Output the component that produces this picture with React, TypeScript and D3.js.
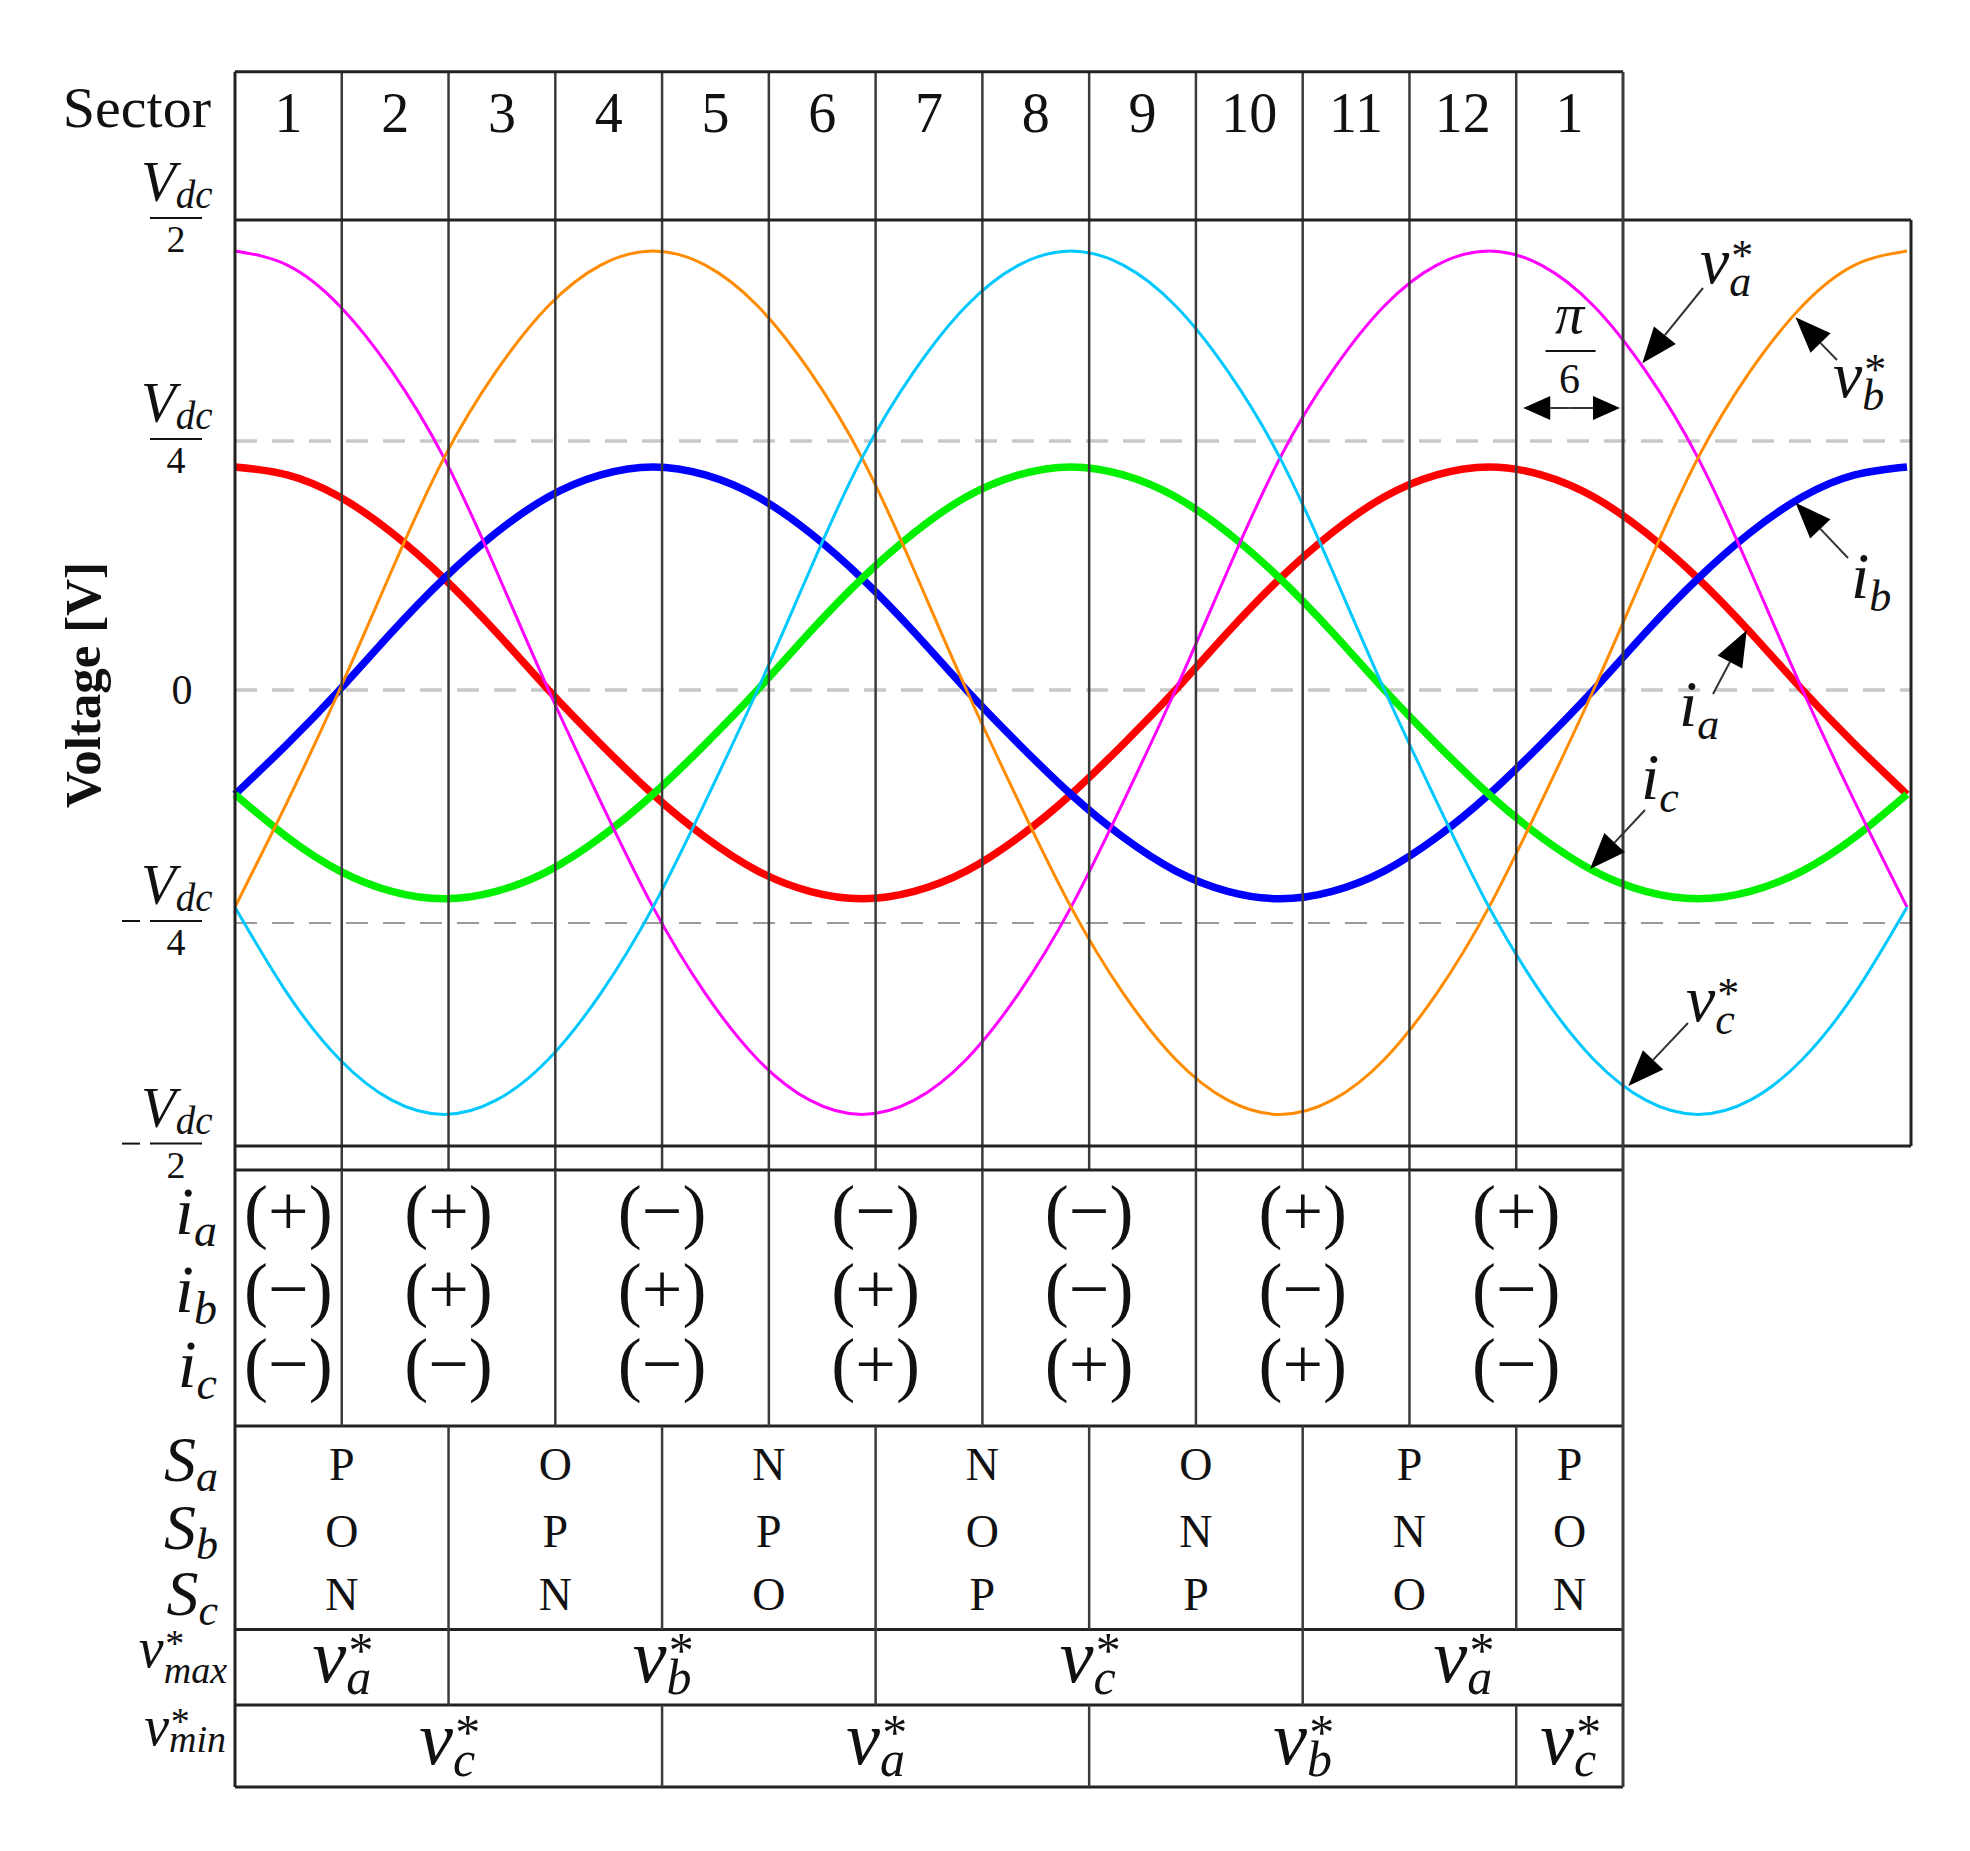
import React from 'react';
import * as d3 from 'd3';

// ---------------- DATA ----------------
const angles = [0, 15, 30, 45, 60, 75, 90, 105, 120, 135, 150, 165, 180, 195, 210, 225, 240, 255, 270, 285, 300, 315, 330, 345, 360, 375, 390, 405, 420, 435, 450, 465, 480];

// reference voltages (fraction of Vdc)
const vaRef = [0.465, 0.449, 0.403, 0.329, 0.233, 0.120, 0, -0.120, -0.233, -0.329, -0.403, -0.449, -0.465, -0.449, -0.403, -0.329, -0.233, -0.120, 0, 0.120, 0.233, 0.329, 0.403, 0.449, 0.465, 0.449, 0.403, 0.329, 0.233, 0.120, 0, -0.120, -0.233];
const vbRef = [-0.233, -0.120, 0, 0.120, 0.233, 0.329, 0.403, 0.449, 0.465, 0.449, 0.403, 0.329, 0.233, 0.120, 0, -0.120, -0.233, -0.329, -0.403, -0.449, -0.465, -0.449, -0.403, -0.329, -0.233, -0.120, 0, 0.120, 0.233, 0.329, 0.403, 0.449, 0.465];
const vcRef = [-0.233, -0.329, -0.403, -0.449, -0.465, -0.449, -0.403, -0.329, -0.233, -0.120, 0, 0.120, 0.233, 0.329, 0.403, 0.449, 0.465, 0.449, 0.403, 0.329, 0.233, 0.120, 0, -0.120, -0.233, -0.329, -0.403, -0.449, -0.465, -0.449, -0.403, -0.329, -0.233];
// phase currents
const iaCur = [0.224, 0.216, 0.194, 0.158, 0.112, 0.058, 0, -0.058, -0.112, -0.158, -0.194, -0.216, -0.224, -0.216, -0.194, -0.158, -0.112, -0.058, 0, 0.058, 0.112, 0.158, 0.194, 0.216, 0.224, 0.216, 0.194, 0.158, 0.112, 0.058, 0, -0.058, -0.112];
const ibCur = [-0.112, -0.058, 0, 0.058, 0.112, 0.158, 0.194, 0.216, 0.224, 0.216, 0.194, 0.158, 0.112, 0.058, 0, -0.058, -0.112, -0.158, -0.194, -0.216, -0.224, -0.216, -0.194, -0.158, -0.112, -0.058, 0, 0.058, 0.112, 0.158, 0.194, 0.216, 0.224];
const icCur = [-0.112, -0.158, -0.194, -0.216, -0.224, -0.216, -0.194, -0.158, -0.112, -0.058, 0, 0.058, 0.112, 0.158, 0.194, 0.216, 0.224, 0.216, 0.194, 0.158, 0.112, 0.058, 0, -0.058, -0.112, -0.158, -0.194, -0.216, -0.224, -0.216, -0.194, -0.158, -0.112];

const sectorLabels = ['1', '2', '3', '4', '5', '6', '7', '8', '9', '10', '11', '12', '1'];
const yTickValues = [0.5, 0.25, 0, -0.25, -0.5];
const dashedValues = [0.25, 0, -0.25];

const signSpans = [[0, 1], [1, 3], [3, 5], [5, 7], [7, 9], [9, 11], [11, 13]];
const iaSign = ['+', '+', '−', '−', '−', '+', '+'];
const ibSign = ['−', '+', '+', '+', '−', '−', '−'];
const icSign = ['−', '−', '−', '+', '+', '+', '−'];

const switchSpans = [[0, 2], [2, 4], [4, 6], [6, 8], [8, 10], [10, 12], [12, 13]];
const Sa = ['P', 'O', 'N', 'N', 'O', 'P', 'P'];
const Sb = ['O', 'P', 'P', 'O', 'N', 'N', 'O'];
const Sc = ['N', 'N', 'O', 'P', 'P', 'O', 'N'];

const vmaxSpans = [[0, 2], [2, 6], [6, 10], [10, 13]];
const vmaxPhase = ['a', 'b', 'c', 'a'];
const vminSpans = [[0, 4], [4, 8], [8, 12], [12, 13]];
const vminPhase = ['c', 'a', 'b', 'c'];

// annotation tips (angle in degrees, value in Vdc)
const annotTips = [
  { main: 'v', sub: 'a', sup: '*', theta: 404, value: 0.338 },
  { main: 'v', sub: 'b', sup: '*', theta: 448, value: 0.39 },
  { main: 'i', sub: 'b', sup: '', theta: 448, value: 0.188 },
  { main: 'i', sub: 'a', sup: '', theta: 434, value: 0.06 },
  { main: 'i', sub: 'c', sup: '', theta: 389, value: -0.192 },
  { main: 'v', sub: 'c', sup: '*', theta: 400, value: -0.433 },
];

// ---------------- LAYOUT ----------------
const W = 1970, H = 1851;
const L = 235;
const HEADER_TOP = 71.7, PLOT_TOP = 220, PLOT_BOTTOM = 1146, STRIP_BOTTOM = 1170;
const SIGN_BOTTOM = 1426, SW_BOTTOM = 1629.5, MAX_BOTTOM = 1705, MIN_BOTTOM = 1787;
const TABLE_R = 1623, PLOT_R = 1911;
const FONT = '"Liberation Serif", "Times New Roman", Times, serif';

// annotation tail and label positions (pixels)
const annotLayout = [
  { tail: [1703, 288], label: [1700, 283] },
  { tail: [1837, 360], label: [1833, 397] },
  { tail: [1848, 558], label: [1851, 598] },
  { tail: [1713, 694], label: [1679, 726] },
  { tail: [1645, 810], label: [1641, 799] },
  { tail: [1688, 1023], label: [1686, 1021] },
];

const thetaX = d3.scaleLinear().domain([0, 480]).range([L, 1907]);
const sectorX = d3.scaleLinear().domain([0, 13]).range([L, TABLE_R]);
const yV = d3.scaleLinear().domain([-0.5, -0.25, 0, 0.25, 0.5]).range([1145.6, 923, 690, 441, 220]);

const lineGen = d3.line<number>()
  .x((_, i) => thetaX(angles[i]))
  .y((d) => yV(d))
  .curve(d3.curveNatural);

const IW: Record<string, number> = { v: 0.444, i: 0.278, S: 0.5, V: 0.611, a: 0.5, b: 0.5, c: 0.444, m: 0.722, n: 0.5, x: 0.444, d: 0.5, '*': 0.5 };
const tw = (s: string, size: number) => s.split('').reduce((acc, ch) => acc + (IW[ch] ?? 0.5) * size, 0);

function Sym({ x, y, main, sup, sub, size, small, anchor = 'start', supDy = -0.2, subDy = 0.18 }:
  { x: number; y: number; main: string; sup?: string; sub?: string; size: number; small: number; anchor?: string; supDy?: number; subDy?: number }) {
  const mw = tw(main, size);
  const sw = Math.max(sup ? tw(sup, small) : 0, sub ? tw(sub, small) : 0);
  const total = mw + sw;
  const left = anchor === 'start' ? x : anchor === 'middle' ? x - total / 2 : x - total;
  return (
    <text x={left} y={y} fontFamily={FONT} fill="#111">
      <tspan fontSize={size} fontStyle="italic">{main}</tspan>
      {sup ? <tspan x={left + mw + size * 0.03} y={y + supDy * size} fontSize={small} fontStyle="normal">{sup}</tspan> : null}
      {sub ? <tspan x={left + mw} y={y + subDy * size} fontSize={small} fontStyle="italic">{sub}</tspan> : null}
    </text>
  );
}

function Arrow({ x1, y1, x2, y2, hl = 34, hw = 26, sw = 2 }: { x1: number; y1: number; x2: number; y2: number; hl?: number; hw?: number; sw?: number }) {
  const dx = x2 - x1, dy = y2 - y1;
  const len = Math.hypot(dx, dy);
  const ux = dx / len, uy = dy / len;
  const bx = x2 - ux * hl, by = y2 - uy * hl;
  const px = -uy, py = ux;
  return (
    <g>
      <line x1={x1} y1={y1} x2={bx} y2={by} stroke="#333" strokeWidth={sw} />
      <path d={`M${x2},${y2}L${bx + px * hw / 2},${by + py * hw / 2}L${bx - px * hw / 2},${by - py * hw / 2}Z`} fill="#000" />
    </g>
  );
}

const spanMid = (s: number[]) => (sectorX(s[0]) + sectorX(s[1])) / 2;

export default function App() {
  const currents = [
    { data: iaCur, color: '#ff0000' },
    { data: ibCur, color: '#0000ff' },
    { data: icCur, color: '#00f000' },
  ];
  const refs = [
    { data: vaRef, color: '#ff00ff' },
    { data: vbRef, color: '#ff8c00' },
    { data: vcRef, color: '#00c8ff' },
  ];
  const signRows = [
    { signs: iaSign, sub: 'a', cy: 1217 },
    { signs: ibSign, sub: 'b', cy: 1295 },
    { signs: icSign, sub: 'c', cy: 1370 },
  ];
  const swRows = [
    { vals: Sa, sub: 'a', base: 1480, lab: 1481 },
    { vals: Sb, sub: 'b', base: 1547, lab: 1549 },
    { vals: Sc, sub: 'c', base: 1610, lab: 1615 },
  ];
  const lineCol = '#222';
  const gridCol = '#3a3a3a';
  const boundaries = (spans: number[][]) => spans.slice(1).map((s) => s[0]);

  return (
    <svg width={W} height={H} viewBox={`0 0 ${W} ${H}`} style={{ position: 'absolute', left: 0, top: 0, background: '#fff' }}>
      <rect x={0} y={0} width={W} height={H} fill="#fff" />

      {/* dashed reference lines */}
      {dashedValues.map((v) => (
        <line key={v} x1={L} x2={PLOT_R} y1={yV(v)} y2={yV(v)}
          stroke={v < 0 ? '#9a9a9a' : '#c8c8c8'} strokeWidth={v < 0 ? 2 : 3.5} strokeDasharray="22 15" />
      ))}

      {/* currents (thick) */}
      {currents.map((c, i) => (
        <path key={'c' + i} d={lineGen(c.data) || ''} fill="none" stroke={c.color} strokeWidth={7.5} strokeLinejoin="round" />
      ))}
      {/* reference voltages (thin) */}
      {refs.map((c, i) => (
        <path key={'r' + i} d={lineGen(c.data) || ''} fill="none" stroke={c.color} strokeWidth={3} />
      ))}

      {/* sector grid lines */}
      {d3.range(1, 13).map((k) => (
        <line key={'g' + k} x1={sectorX(k)} x2={sectorX(k)} y1={HEADER_TOP} y2={STRIP_BOTTOM} stroke={gridCol} strokeWidth={2.5} />
      ))}

      {/* frame lines */}
      <line x1={L} x2={TABLE_R} y1={HEADER_TOP} y2={HEADER_TOP} stroke={lineCol} strokeWidth={3} />
      <line x1={L} x2={PLOT_R} y1={PLOT_TOP} y2={PLOT_TOP} stroke={lineCol} strokeWidth={3} />
      <line x1={L} x2={PLOT_R} y1={PLOT_BOTTOM} y2={PLOT_BOTTOM} stroke={lineCol} strokeWidth={3} />
      <line x1={PLOT_R} x2={PLOT_R} y1={PLOT_TOP} y2={PLOT_BOTTOM} stroke={lineCol} strokeWidth={3} />
      {[STRIP_BOTTOM, SIGN_BOTTOM, SW_BOTTOM, MAX_BOTTOM, MIN_BOTTOM].map((y) => (
        <line key={'h' + y} x1={L} x2={TABLE_R} y1={y} y2={y} stroke={lineCol} strokeWidth={3} />
      ))}
      <line x1={L} x2={L} y1={HEADER_TOP} y2={MIN_BOTTOM} stroke={lineCol} strokeWidth={3} />
      <line x1={TABLE_R} x2={TABLE_R} y1={HEADER_TOP} y2={MIN_BOTTOM} stroke={gridCol} strokeWidth={3} />

      {/* table dividers */}
      {boundaries(signSpans).map((k) => (
        <line key={'sd' + k} x1={sectorX(k)} x2={sectorX(k)} y1={STRIP_BOTTOM} y2={SIGN_BOTTOM} stroke={gridCol} strokeWidth={2.5} />
      ))}
      {boundaries(switchSpans).map((k) => (
        <line key={'wd' + k} x1={sectorX(k)} x2={sectorX(k)} y1={SIGN_BOTTOM} y2={SW_BOTTOM} stroke={gridCol} strokeWidth={2.5} />
      ))}
      {boundaries(vmaxSpans).map((k) => (
        <line key={'xd' + k} x1={sectorX(k)} x2={sectorX(k)} y1={SW_BOTTOM} y2={MAX_BOTTOM} stroke={gridCol} strokeWidth={2.5} />
      ))}
      {boundaries(vminSpans).map((k) => (
        <line key={'nd' + k} x1={sectorX(k)} x2={sectorX(k)} y1={MAX_BOTTOM} y2={MIN_BOTTOM} stroke={gridCol} strokeWidth={2.5} />
      ))}

      {/* header */}
      <text x={211} y={127} fontFamily={FONT} fontSize={58} textAnchor="end" fill="#111">Sector</text>
      {sectorLabels.map((s, i) => (
        <text key={'s' + i} x={(sectorX(i) + sectorX(i + 1)) / 2} y={132} fontFamily={FONT} fontSize={56} textAnchor="middle" fill="#111">{s}</text>
      ))}

      {/* y axis labels */}
      <text transform="translate(83,685) rotate(-90)" fontFamily={FONT} fontWeight="bold" fontSize={51} textAnchor="middle" dominantBaseline="central" fill="#111">Voltage [V]</text>
      {yTickValues.map((v) => {
        if (v === 0) {
          return <text key="zero" x={182} y={704} fontFamily={FONT} fontSize={42} textAnchor="middle" fill="#111">0</text>;
        }
        const bar = yV(v) - 2;
        const den = String(Math.round(1 / Math.abs(v)));
        return (
          <g key={'yt' + v} fontFamily={FONT} fill="#111">
            {v < 0 ? <line x1={122} x2={140} y1={bar} y2={bar} stroke="#111" strokeWidth={2} /> : null}
            <text x={141} y={bar - 17} fontSize={57} fontStyle="italic">V<tspan fontSize={39} dy={7}>dc</tspan></text>
            <line x1={150} x2={202} y1={bar} y2={bar} stroke="#111" strokeWidth={2} />
            <text x={176} y={bar + 34} fontSize={38} textAnchor="middle">{den}</text>
          </g>
        );
      })}

      {/* pi/6 annotation */}
      <text x={sectorX(12.5)} y={333} fontFamily={FONT} fontSize={58} fontStyle="italic" textAnchor="middle" fill="#111">π</text>
      <line x1={sectorX(12.5) - 24} x2={sectorX(12.5) + 26} y1={351} y2={351} stroke="#111" strokeWidth={2} />
      <text x={sectorX(12.5)} y={393} fontFamily={FONT} fontSize={42} textAnchor="middle" fill="#111">6</text>
      <Arrow x1={sectorX(12.5)} y1={408} x2={sectorX(12) + 7} y2={408} hl={27} hw={24} />
      <Arrow x1={sectorX(12.5)} y1={408} x2={sectorX(13) - 3} y2={408} hl={27} hw={24} />

      {/* curve annotations */}
      {annotTips.map((a, i) => {
        const lay = annotLayout[i];
        return (
          <g key={'an' + i}>
            <Arrow x1={lay.tail[0]} y1={lay.tail[1]} x2={thetaX(a.theta)} y2={yV(a.value)} hl={36} hw={28} />
            <Sym x={lay.label[0]} y={lay.label[1]} main={a.main} sup={a.sup || undefined} sub={a.sub} size={66} small={44} subDy={0.2} />
          </g>
        );
      })}

      {/* current sign table */}
      {signRows.map((r) => (
        <Sym key={'sl' + r.sub} x={217} y={r.cy + 17} main="i" sub={r.sub} size={68} small={46} anchor="end" subDy={0.18} />
      ))}
      {signSpans.map((span, j) => (
        <text key={'sc' + j} fontFamily={FONT} fontSize={72} textAnchor="middle" fill="#111">
          {signRows.map((r) => (
            <tspan key={r.sub} x={spanMid(span)} y={r.cy + 18}>({r.signs[j]})</tspan>
          ))}
        </text>
      ))}

      {/* switching states table */}
      {swRows.map((r) => (
        <Sym key={'swl' + r.sub} x={218} y={r.lab} main="S" sub={r.sub} size={64} small={44} anchor="end" subDy={0.16} />
      ))}
      {switchSpans.map((span, j) => (
        <text key={'swc' + j} fontFamily={FONT} fontSize={46} textAnchor="middle" fill="#111">
          {swRows.map((r) => (
            <tspan key={r.sub} x={spanMid(span)} y={r.base}>{r.vals[j]}</tspan>
          ))}
        </text>
      ))}

      {/* v*max / v*min rows */}
      <Sym x={227} y={1667} main="v" sup="*" sub="max" size={56} small={38} anchor="end" subDy={0.29} />
      {vmaxPhase.map((p, j) => (
        <Sym key={'mx' + j} x={spanMid(vmaxSpans[j])} y={1682} main="v" sup="*" sub={p} size={76} small={50} anchor="middle" subDy={0.16} />
      ))}
      <Sym x={226} y={1745} main="v" sup="*" sub="min" size={56} small={38} anchor="end" subDy={0.12} />
      {vminPhase.map((p, j) => (
        <Sym key={'mn' + j} x={spanMid(vminSpans[j])} y={1764} main="v" sup="*" sub={p} size={76} small={50} anchor="middle" subDy={0.16} />
      ))}
    </svg>
  );
}
